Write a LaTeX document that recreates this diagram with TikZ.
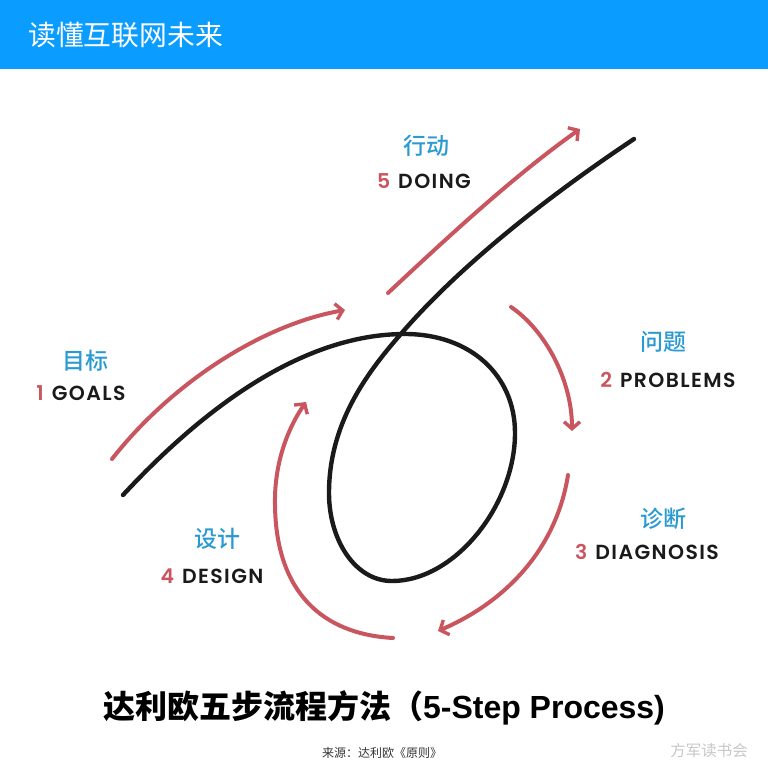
\documentclass[tikz,border=0pt]{standalone}
\usepackage{fontspec}
\setmainfont{Liberation Sans}
\newfontfamily\cjk{Noto Sans CJK SC}
\newfontfamily\cjkmed{Noto Sans CJK SC Medium}
\newfontfamily\lat[LetterSpace=7]{Poppins SemiBold}
\usetikzlibrary{arrows.meta}
\definecolor{topblue}{HTML}{0A9CFF}
\definecolor{labblue}{HTML}{2A9AD2}
\definecolor{stepred}{HTML}{C9565F}
\definecolor{inkblack}{HTML}{1A1A1A}
\tikzset{
    cnlabel/.style={text=labblue,font=\cjkmed\fontsize{23}{23}\selectfont,inner sep=0pt},
    enlabel/.style={text=inkblack,font=\lat\fontsize{20.4}{20.4}\selectfont,inner sep=0pt},
    redarrow/.style={draw=stepred,line width=4pt,line cap=round,-{Straight Barb[length=7pt,width=16pt,line width=3.4pt]}},
    blackline/.style={draw=inkblack,line width=4.4pt,line cap=round,line join=round}
}
\def\num#1{\textcolor{stepred}{#1}\hspace{8pt}}
\def\dred{\draw[redarrow]}
\begin{document}
\begin{tikzpicture}[x=1pt,y=-1pt]
    \useasboundingbox (0,0) rectangle (768,768);
    \fill[topblue] (0,0) rectangle (768,69);
    \node[text=white,font=\cjk\fontsize{27.8}{27.8}\selectfont,inner sep=0pt,anchor=west] (header) at (28,35) {读懂互联网未来};
    % ends of the curves
    \coordinate (blackstart) at (123,495);
    \coordinate (blackend) at (634,139);
    \coordinate (goalsstart) at (112,459);
    \coordinate (goalsend) at (345,310);
    \coordinate (problemsstart) at (511,307);
    \coordinate (problemsend) at (572,431);
    \coordinate (diagnosisstart) at (568,475);
    \coordinate (diagnosisend) at (438,631);
    \coordinate (designstart) at (393,638);
    \coordinate (designend) at (306,402);
    \coordinate (doingstart) at (388,293);
    \coordinate (doingend) at (580,129);
    \draw[blackline] (blackstart) .. controls (200,412) and (300,334) .. (405,334)
        .. controls (470,334) and (515,375) .. (515,433)
        .. controls (515,505) and (455,581) .. (392,581)
        .. controls (355,581) and (329,540) .. (329,493)
        .. controls (329,425) and (365,375) .. (400,335)
        .. controls (460,265) and (550,195) .. (blackend);
    \dred (goalsstart) .. controls (170,385) and (260,325) .. (goalsend);
    \dred (doingstart) .. controls (450,235) and (515,175) .. (doingend);
    \dred (problemsstart) .. controls (545,330) and (572,380) .. (problemsend);
    \dred (diagnosisstart) .. controls (557,545) and (510,600) .. (diagnosisend);
    \dred (designstart) .. controls (322,634) and (276,592) .. (275,505)
        .. controls (274,460) and (290,425) .. (designend);
    \node[cnlabel] (goalscn) at (85,361) {目标};
    \node[enlabel] (goals) at (81,393) {\num{1}GOALS};
    \node[cnlabel] (doingcn) at (426,146) {行动};
    \node[enlabel] (doing) at (424,181) {\num{5}DOING};
    \node[cnlabel] (problemscn) at (663,342) {问题};
    \node[enlabel] (problems) at (668,380) {\num{2}PROBLEMS};
    \node[cnlabel] (diagnosiscn) at (663,519) {诊断};
    \node[enlabel] (diagnosis) at (647,552) {\num{3}DIAGNOSIS};
    \node[cnlabel] (designcn) at (217,539) {设计};
    \node[enlabel] (design) at (212,576) {\num{4}DESIGN};
    \node[font=\bfseries\fontsize{32}{32}\selectfont,inner sep=0pt] (title) at (384,708) {{\cjk\bfseries 达利欧五步流程方法（}5-Step Process)};
    \node[font=\cjk\fontsize{12}{12}\selectfont,inner sep=0pt,text=black!80] (source) at (382,753) {来源：达利欧《原则》};
    \node[font=\cjk\fontsize{15.5}{15.5}\selectfont,inner sep=0pt,text=black!22] (mark) at (709,751) {方军读书会};
\end{tikzpicture}
\end{document}
